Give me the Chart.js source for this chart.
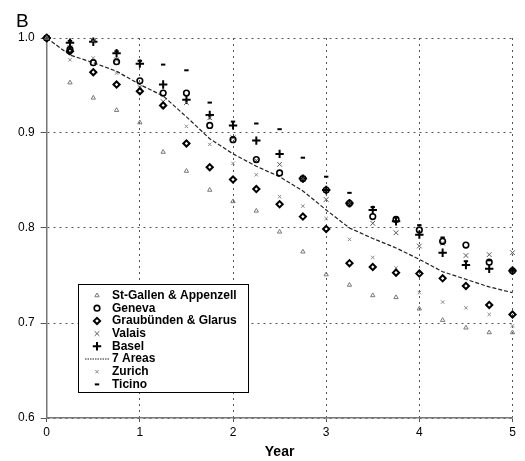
<!DOCTYPE html>
<html>
<head>
<meta charset="utf-8">
<script src="https://cdn.jsdelivr.net/npm/chart.js@4/dist/chart.umd.min.js"></script>
<style>
  html, body { margin: 0; padding: 0; background: #fff; }
  #wrap { width: 525px; height: 461px; }
</style>
</head>
<body>
<div id="wrap"><canvas id="c" width="525" height="461"></canvas></div>
<script>
// Survival proportion by follow-up year, per area
const years = [0, 0.25, 0.5, 0.75, 1, 1.25, 1.5, 1.75, 2, 2.25, 2.5, 2.75, 3, 3.25, 3.5, 3.75, 4, 4.25, 4.5, 4.75, 5];

const stGallen   = [1.0, 0.953, 0.937, 0.924, 0.911, 0.880, 0.860, 0.840, 0.828, 0.818, 0.796, 0.775, 0.751, 0.740, 0.729, 0.727, 0.715, 0.703, 0.695, 0.690, 0.690];
const geneva     = [1.0, 0.988, 0.974, 0.975, 0.955, 0.942, 0.942, 0.908, 0.893, 0.872, 0.858, 0.852, 0.840, 0.826, 0.812, 0.809, 0.798, 0.786, 0.782, 0.764, 0.755];
const graubunden = [1.0, 0.986, 0.964, 0.951, 0.944, 0.929, 0.889, 0.864, 0.851, 0.841, 0.825, 0.812, 0.799, 0.763, 0.759, 0.753, 0.752, 0.747, 0.739, 0.719, 0.709];
const valais     = [1.0, 0.990, 0.997, 0.977, 0.948, 0.933, 0.932, 0.916, 0.895, 0.871, 0.867, 0.852, 0.830, 0.826, 0.805, 0.795, 0.781, 0.784, 0.771, 0.772, 0.774];
const basel      = [1.0, 0.995, 0.996, 0.984, 0.973, 0.951, 0.935, 0.919, 0.908, 0.892, 0.878, 0.852, 0.840, 0.826, 0.819, 0.807, 0.793, 0.774, 0.761, 0.757, 0.755];
const sevenAreas = [1.0, 0.982, 0.974, 0.965, 0.951, 0.939, 0.917, 0.894, 0.878, 0.865, 0.854, 0.839, 0.819, 0.800, 0.789, 0.779, 0.767, 0.754, 0.746, 0.738, 0.732];
const zurich     = [1.0, 0.977, 0.979, 0.963, 0.946, 0.927, 0.907, 0.888, 0.868, 0.856, 0.833, 0.823, 0.810, 0.788, 0.769, 0.758, 0.732, 0.722, 0.716, 0.709, 0.697];
const ticino     = [1.0, 0.997, 0.998, 0.986, 0.976, 0.972, 0.966, 0.932, 0.912, 0.910, 0.904, 0.874, 0.854, 0.837, 0.822, 0.811, 0.803, 0.790, 0.765, 0.766, 0.757];

const xTicks = [0, 1, 2, 3, 4, 5];
const yTicks = [0.6, 0.7, 0.8, 0.9, 1.0];

const pts = arr => arr.map((v, i) => ({ x: years[i], y: v }));
const clear = 'rgba(255,255,255,0)';

function marker(label, values, style, radius, width, color) {
  return {
    label, data: pts(values), showLine: false,
    pointStyle: style, pointRadius: radius, pointHoverRadius: radius,
    pointBorderWidth: width, pointBorderColor: color, pointBackgroundColor: clear,
    borderColor: color, backgroundColor: clear, borderWidth: width
  };
}

const datasets = [
  marker('St-Gallen & Appenzell', stGallen, 'triangle', 2.5, 1, '#777'),
  marker('Geneva', geneva, 'circle', 2.8, 1.6, '#000'),
  marker('Graubünden & Glarus', graubunden, 'rectRot', 3.1, 2, '#000'),
  marker('Valais', valais, 'crossRot', 3.3, 1, '#555'),
  marker('Basel', basel, 'cross', 4.2, 2, '#000'),
  {
    label: '7 Areas', data: pts(sevenAreas), showLine: true,
    borderColor: '#222', borderWidth: 1.2, borderDash: [4, 2],
    pointRadius: 0, pointHoverRadius: 0, tension: 0, fill: false,
    backgroundColor: clear
  },
  marker('Zurich', zurich, 'crossRot', 2.4, 1, '#888'),
  marker('Ticino', ticino, 'line', 2.2, 2, '#000')
];

const FONT = '"Liberation Sans", Arial, Helvetica, sans-serif';

// Boxed key drawn inside the plot, plus the panel letter
const panelDecor = {
  id: 'panelDecor',
  afterDatasetsDraw(chart) {
    const ctx = chart.ctx;
    const bx = 78, by = 284, bw = 170, bh = 108;
    ctx.save();
    ctx.fillStyle = '#fff';
    ctx.fillRect(bx, by, bw, bh);
    ctx.strokeStyle = '#000';
    ctx.lineWidth = 1;
    ctx.setLineDash([]);
    ctx.strokeRect(bx + 0.5, by + 0.5, bw, bh);

    ctx.font = 'bold 12px ' + FONT;
    ctx.textBaseline = 'middle';
    ctx.textAlign = 'left';
    chart.data.datasets.forEach((ds, i) => {
      const cy = 295.5 + i * 12.7;
      if (ds.showLine) {
        ctx.save();
        ctx.strokeStyle = ds.borderColor;
        ctx.lineWidth = ds.borderWidth;
        ctx.setLineDash([1.5, 1]);
        ctx.beginPath();
        ctx.moveTo(85, cy);
        ctx.lineTo(110, cy);
        ctx.stroke();
        ctx.restore();
      } else {
        ctx.save();
        ctx.strokeStyle = ds.pointBorderColor;
        ctx.fillStyle = clear;
        ctx.lineWidth = ds.pointBorderWidth;
        Chart.helpers.drawPoint(ctx, {
          pointStyle: ds.pointStyle, radius: ds.pointRadius,
          borderWidth: ds.pointBorderWidth, rotation: 0
        }, 97, cy);
        ctx.restore();
      }
      ctx.fillStyle = '#000';
      ctx.fillText(ds.label, 112, cy);
    });

    ctx.font = '19px ' + FONT;
    ctx.textBaseline = 'alphabetic';
    ctx.fillText('B', 16, 27);
    ctx.restore();
  }
};

new Chart(document.getElementById('c'), {
  type: 'scatter',
  data: { datasets },
  options: {
    responsive: false,
    animation: false,
    devicePixelRatio: 1,
    layout: { padding: { top: 38, right: 12.5, left: 0, bottom: 0 } },
    plugins: { legend: { display: false }, tooltip: { enabled: false } },
    elements: { point: { hitRadius: 0 } },
    clip: false,
    scales: {
      x: {
        type: 'linear', min: 0, max: 5,
        afterBuildTicks: s => { s.ticks = xTicks.map(v => ({ value: v })); },
        afterFit: s => { s.height = 43; },
        ticks: { color: '#000', font: { family: FONT, size: 12 }, padding: 3, callback: v => String(v) },
        grid: { color: '#555', lineWidth: 1, drawTicks: true, tickLength: 4, tickColor: '#555', tickBorderDash: [] },
        border: { display: true, color: '#777', width: 1.5, dash: [2, 4] },
        title: { display: true, text: 'Year', color: '#000', font: { family: FONT, size: 14, weight: 'bold' }, padding: { top: 0, bottom: 0 } }
      },
      y: {
        type: 'linear', min: 0.6, max: 1.0,
        afterBuildTicks: s => { s.ticks = yTicks.map(v => ({ value: v })); },
        afterFit: s => { s.width = 46.7; },
        ticks: { color: '#000', font: { family: FONT, size: 12 }, padding: 6, callback: v => Number(v).toFixed(1) },
        grid: { color: '#555', lineWidth: 1, drawTicks: true, tickLength: 6, tickColor: '#555', tickBorderDash: [] },
        border: { display: true, color: '#777', width: 1.5, dash: [2, 4] }
      }
    }
  },
  plugins: [panelDecor]
});
</script>
</body>
</html>
